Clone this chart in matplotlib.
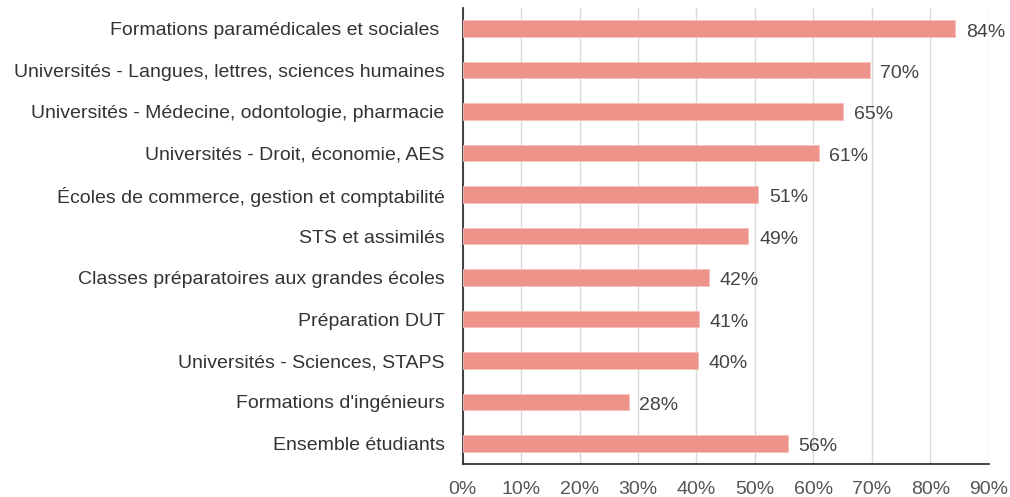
import matplotlib.pyplot as plt
import numpy as np

plt.rcParams['font.family'] = ['Liberation Sans', 'DejaVu Sans']

categories = [
    "Formations paramédicales et sociales ",
    "Universités - Langues, lettres, sciences humaines",
    "Universités - Médecine, odontologie, pharmacie",
    "Universités - Droit, économie, AES",
    "Écoles de commerce, gestion et comptabilité",
    "STS et assimilés",
    "Classes préparatoires aux grandes écoles",
    "Préparation DUT",
    "Universités - Sciences, STAPS",
    "Formations d'ingénieurs",
    "Ensemble étudiants",
]
values = [84.3, 69.6, 65.1, 60.9, 50.6, 48.9, 42.2, 40.5, 40.3, 28.4, 55.6]
labels = ["84%", "70%", "65%", "61%", "51%", "49%", "42%", "41%", "40%", "28%", "56%"]
xticks = [0, 10, 20, 30, 40, 50, 60, 70, 80, 90]

fig = plt.figure(figsize=(10.1, 4.97), dpi=100)
ax = fig.add_axes([0.458, 0.066, 0.521, 0.918])

y = np.arange(len(categories))
ax.barh(y, values, height=0.4, color='#EE938A', edgecolor='#F6C0BA', linewidth=0.6, zorder=3)
for yi, v, lab in zip(y, values, labels):
    ax.text(v + 1.8, yi + 0.08, lab, va='center', ha='left', fontsize=14, color='#444444')

ax.set_yticks(y)
ax.set_yticklabels(categories, fontsize=14, color='#333333')
ax.set_ylim(len(categories) - 0.5, -0.5)
ax.set_xlim(0, 90)
ax.set_xticks(xticks)
ax.set_xticklabels([f"{t}%" for t in xticks], fontsize=14, color='#555555')
ax.tick_params(length=0)
ax.tick_params(axis='x', pad=12)
ax.tick_params(axis='y', pad=13)
ax.grid(axis='x', color='#D9D9D9', linewidth=1, zorder=0)
ax.spines['top'].set_visible(False)
ax.spines['right'].set_visible(False)
ax.spines['left'].set_color('#222222')
ax.spines['bottom'].set_color('#222222')
ax.spines['left'].set_linewidth(1.2)
ax.spines['bottom'].set_linewidth(1.2)

plt.savefig('out.png', dpi=100)
